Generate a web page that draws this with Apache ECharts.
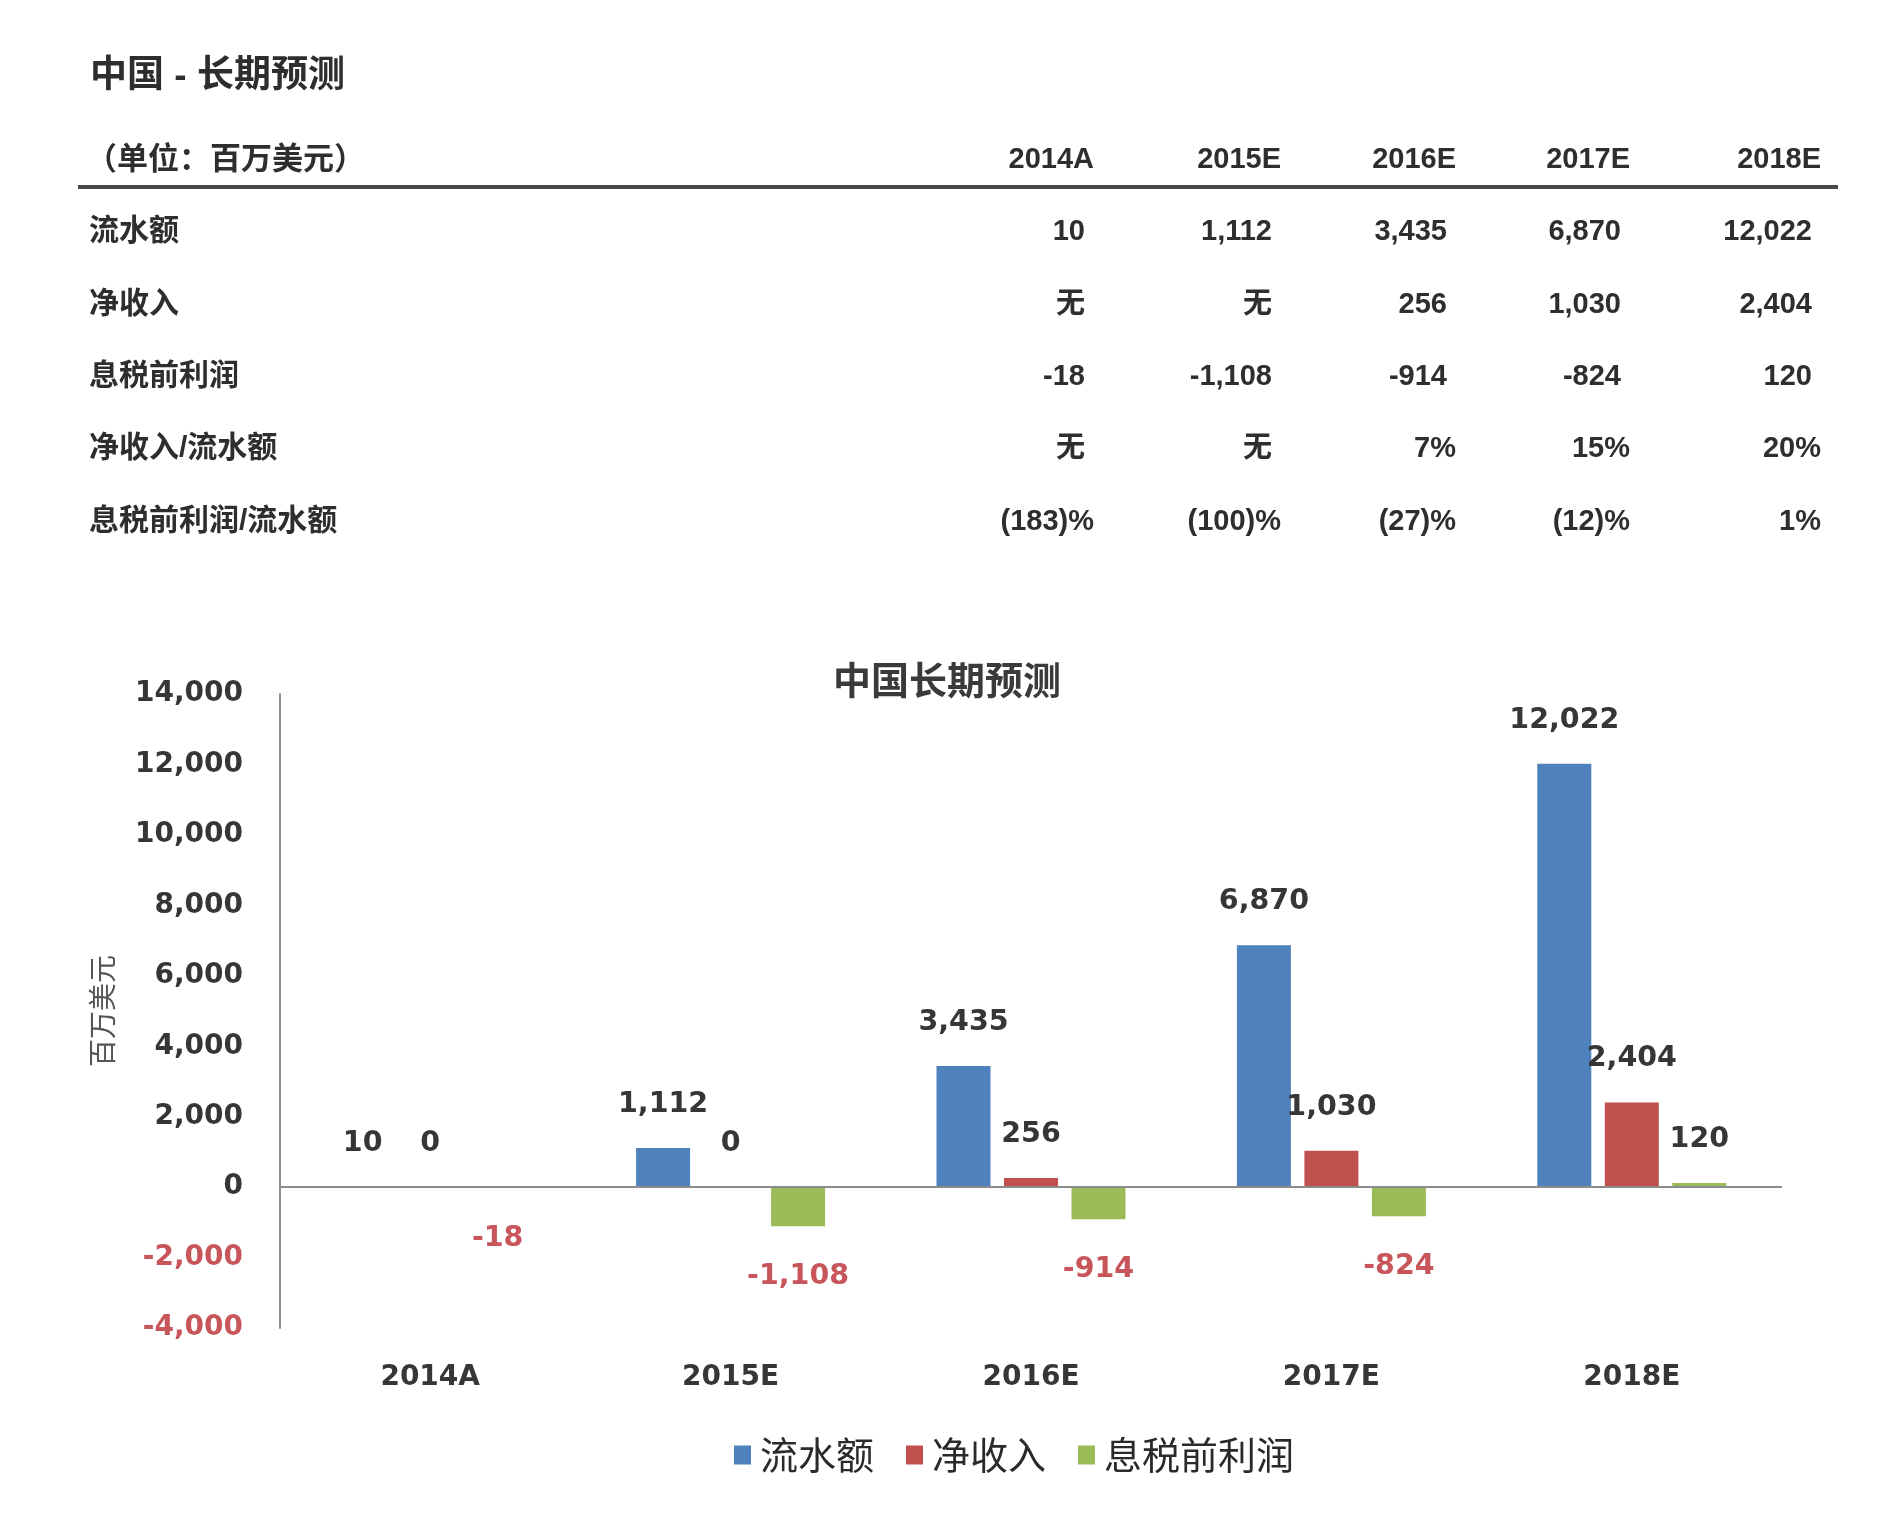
<!DOCTYPE html>
<html>
<head>
<meta charset="utf-8">
<script src="https://cdn.jsdelivr.net/npm/echarts@6/dist/echarts.min.js"></script>
<style>
html,body{margin:0;padding:0;background:#fff;}
#chart{width:1879px;height:1518px;}
</style>
</head>
<body>
<div id="chart"></div>
<script>
// ---- data ----
const categories = ['2014A', '2015E', '2016E', '2017E', '2018E'];
const seriesNames = ['流水额', '净收入', '息税前利润'];
const flowValues = [10, 1112, 3435, 6870, 12022];
const netIncomeValues = [0, 0, 256, 1030, 2404];
const ebitValues = [-18, -1108, -914, -824, 120];
const yMin = -4000, yMax = 14000, yInterval = 2000;

const tableTitle = '中国 - 长期预测';
const tableUnit = '（单位：百万美元）';
const tableRowLabels = ['流水额', '净收入', '息税前利润', '净收入/流水额', '息税前利润/流水额'];
const netIncomeText = ['无', '无', '256', '1,030', '2,404'];
const netMarginText = ['无', '无', '7%', '15%', '20%'];
const ebitMarginText = ['(183)%', '(100)%', '(27)%', '(12)%', '1%'];
const chartTitle = '中国长期预测';
const yAxisName = '百万美元';

// ---- helpers / styles ----
const fmt = v => v.toLocaleString('en-US');
const BLUE = '#4f81bd', RED = '#c0504d', GREEN = '#9bbb59';
const TXT = '#363636', NEG = '#c8555a';
const numFont = 'DejaVu Sans, Verdana, sans-serif';
const tblFont = 'Liberation Sans, Arial, Noto Sans CJK SC, sans-serif';

// ---- table via graphic ----
const colRight = [1094, 1281, 1456, 1630, 1821];
const rowY = [232, 305, 377, 449, 522];
const tableRows = [
  flowValues.map(fmt),
  netIncomeText,
  ebitValues.map(fmt),
  netMarginText,
  ebitMarginText
];
const graphics = [];
const txt = (text, x, y, size, align) => ({
  type: 'text', x: x, y: y, silent: true,
  style: {
    text: text, fontSize: size, fontWeight: 'bold', fontFamily: tblFont,
    fill: '#2e2e2e', align: align, verticalAlign: 'middle',
    textAlign: align, textVerticalAlign: 'middle'
  }
});
graphics.push(txt(tableTitle, 90, 77, 37, 'left'));
graphics.push(txt(tableUnit, 86, 160, 31, 'left'));
categories.forEach((c, i) => graphics.push(txt(c, colRight[i], 160, 29, 'right')));
graphics.push({
  type: 'line', silent: true,
  shape: { x1: 78, y1: 187, x2: 1838, y2: 187 },
  style: { stroke: '#4a4a4a', lineWidth: 4 }
});
tableRowLabels.forEach((lab, r) => {
  graphics.push(txt(lab, 89, rowY[r], 30, 'left'));
  tableRows[r].forEach((t, i) => {
    const isPct = /%$/.test(t);
    graphics.push(txt(t, colRight[i] - (isPct ? 0 : 9), rowY[r], 29, 'right'));
  });
});

// ---- chart ----
const chart = echarts.init(document.getElementById('chart'), null, { renderer: 'canvas' });
const labelBase = {
  show: true, position: 'top', distance: 29,
  fontFamily: numFont, fontSize: 28.5, fontWeight: 'bold', color: TXT,
  formatter: p => fmt(p.value)
};
const option = {
  backgroundColor: '#ffffff',
  animation: false,
  title: {
    text: chartTitle, left: 942, top: 656, textAlign: 'center',
    textStyle: { fontFamily: 'Noto Sans CJK SC', fontSize: 38, fontWeight: 'bold', color: '#3a3a3a' }
  },
  graphic: graphics,
  legend: {
    data: seriesNames, left: 729, top: 1431, icon: 'rect',
    itemWidth: 17, itemHeight: 19, itemGap: 32,
    textStyle: { fontFamily: 'Noto Sans CJK SC', fontSize: 38, color: '#2a2a2a', padding: [0, 0, 0, 4] }
  },
  grid: { left: 280, right: 97, top: 694, height: 634, containLabel: false },
  xAxis: {
    type: 'category', data: categories,
    axisLine: { show: false }, axisTick: { show: false },
    axisLabel: { margin: 36, fontFamily: numFont, fontSize: 28, fontWeight: 'bold', color: TXT }
  },
  yAxis: {
    type: 'value', min: yMin, max: yMax, interval: yInterval,
    name: yAxisName, nameLocation: 'middle', nameRotate: 90, nameGap: 164,
    nameTextStyle: { fontFamily: 'Noto Sans CJK SC', fontSize: 28, color: '#555' },
    axisLine: { show: true, lineStyle: { color: '#8c8c8c', width: 2 } },
    axisTick: { show: false },
    splitLine: { show: false },
    axisLabel: {
      margin: 37, fontFamily: numFont, fontSize: 28, fontWeight: 'bold', color: TXT,
      formatter: v => v < 0 ? '{neg|' + fmt(v) + '}' : fmt(v),
      rich: { neg: { color: NEG, fontFamily: numFont, fontSize: 28, fontWeight: 'bold' } }
    }
  },
  series: [
    {
      name: seriesNames[0], type: 'bar', data: flowValues,
      barWidth: 54, barGap: '25%',
      itemStyle: { color: BLUE }, label: labelBase,
      markLine: {
        silent: true, symbol: 'none', label: { show: false },
        lineStyle: { color: '#8c8c8c', width: 2, type: 'solid' },
        data: [{ yAxis: 0 }]
      }
    },
    {
      name: seriesNames[1], type: 'bar', data: netIncomeValues,
      barWidth: 54, barGap: '25%',
      itemStyle: { color: RED }, label: labelBase
    },
    {
      name: seriesNames[2], type: 'bar',
      data: ebitValues.map(v => v < 0
        ? { value: v, label: { position: 'bottom', distance: 36, color: NEG } }
        : { value: v }),
      barWidth: 54, barGap: '25%',
      itemStyle: { color: GREEN }, label: labelBase
    }
  ]
};
chart.setOption(option);
</script>
</body>
</html>
